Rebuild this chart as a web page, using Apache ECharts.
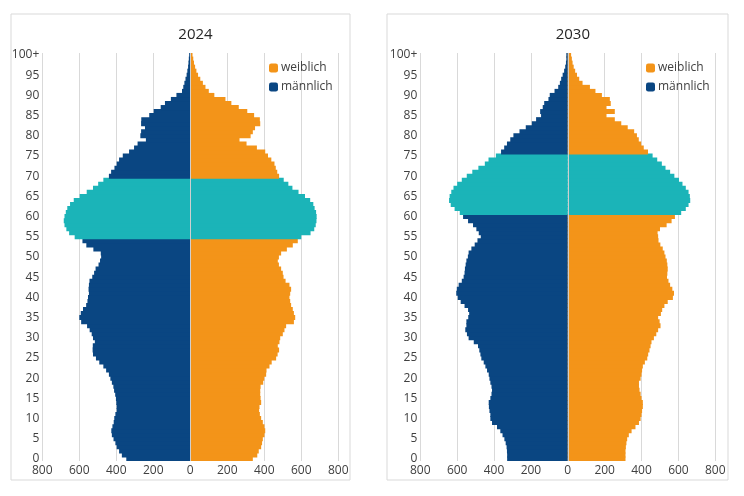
<!DOCTYPE html>
<html>
<head>
<meta charset="utf-8">
<script src="https://cdn.jsdelivr.net/npm/echarts@6/dist/echarts.min.js"></script>
<style>
html,body{margin:0;padding:0;background:#fff;}
#chart{width:744px;height:496px;}
</style>
</head>
<body>
<div id="chart"></div>
<script>
// Altersjahre 0 .. 100+
var ages = [];
for (var a = 0; a <= 100; a++) ages.push(a === 100 ? '100+' : String(a));

var years = ['2024', '2030'];
// Babyboomer-Jahrgänge (1955-1969) farbig markiert
var boomer2024 = [55, 69];
var boomer2030 = [61, 75];

// Personen je Altersjahr, Index = Alter
var male2024 = [346,370,385,398,405,415,424,427,421,414,411,405,398,398,400,402,406,412,416,424,
 432,440,455,470,492,510,526,528,527,516,526,533,544,558,590,600,592,580,563,556,
 553,548,550,548,545,530,520,512,496,488,482,484,524,562,583,625,655,670,680,684,
 680,673,665,650,630,598,560,526,498,470,440,428,410,398,385,365,331,304,285,240,
 270,266,245,266,265,222,198,160,137,105,75,45,38,32,26,20,16,12,10,8,6];
var female2024 = [338,362,370,383,388,392,401,405,401,392,383,376,372,374,383,380,378,378,380,394,
 400,410,412,428,440,464,472,480,473,482,486,500,509,518,560,567,560,554,545,540,
 536,540,545,536,515,504,500,491,479,473,479,491,522,554,581,600,650,670,678,682,
 683,680,672,665,648,620,585,552,530,505,480,470,462,455,438,420,405,360,304,266,
 326,338,350,378,376,345,308,262,222,190,130,100,82,68,54,42,33,26,20,16,12];
var male2030 = [329,329,330,332,337,344,354,366,384,411,420,420,425,428,429,420,414,411,414,420,
 425,429,438,447,456,469,474,480,487,510,538,547,556,550,550,540,535,541,560,581,
 597,605,602,592,575,565,560,558,554,550,542,538,523,505,490,472,483,496,514,541,
 568,586,614,635,644,641,632,620,600,575,548,518,485,450,430,390,362,345,330,312,
 295,262,228,195,172,145,150,136,128,105,98,72,52,43,36,28,20,14,10,8,8];
var female2030 = [313,313,313,315,318,322,331,346,367,386,395,400,403,407,407,400,395,389,386,386,
 395,400,403,407,418,431,436,443,449,454,467,480,490,503,498,490,505,512,524,542,
 570,576,567,555,546,538,540,542,540,537,530,524,515,502,492,490,487,500,536,563,
 581,615,640,655,664,662,655,640,622,603,578,555,530,510,485,460,435,412,398,385,
 375,360,325,290,255,210,255,210,233,228,185,150,120,80,62,50,40,32,26,22,18];

var colMale = '#0a4682';
var colFemale = '#f39419';
var colBoomer = '#1bb4b8';
var txt = '#404040';
var font = 'Open Sans';

function buildData(values, range, sign) {
    return values.map(function (v, i) {
        var item = { value: sign * v };
        if (i >= range[0] && i <= range[1]) item.itemStyle = { color: colBoomer };
        return item;
    });
}

var panels = [
    { left: 42.3, width: 296, cx: 190.5, box: [11, 14, 339, 466] },
    { left: 420.3, width: 295, cx: 567.8, box: [387, 14, 341, 466] }
];

var grids = [], xAxes = [], yAxes = [], titles = [], legends = [], series = [], boxes = [];
var sets = [
    { m: male2024, f: female2024, r: boomer2024 },
    { m: male2030, f: female2030, r: boomer2030 }
];

panels.forEach(function (p, k) {
    grids.push({ left: p.left, width: p.width, top: 53, height: 408 });
    xAxes.push({
        type: 'value', gridIndex: k, min: -800, max: 800, interval: 200,
        axisLine: { show: false }, axisTick: { show: false },
        splitLine: { lineStyle: { color: '#d9d9d9', width: 1 } },
        axisLabel: {
            color: txt, fontFamily: font, fontSize: 12, margin: 4,
            formatter: function (v) { return Math.abs(v); }
        }
    });
    yAxes.push({
        type: 'category', gridIndex: k, data: ages,
        axisLine: { show: false }, axisTick: { show: false }, splitLine: { show: false },
        axisLabel: { interval: 4, color: txt, fontFamily: font, fontSize: 12, margin: 3 }
    });
    titles.push({
        text: years[k], left: p.cx, top: 22, textAlign: 'center',
        textStyle: { color: '#262626', fontFamily: font, fontSize: 15, fontWeight: 'normal' }
    });
    legends.push({
        data: ['weiblich', 'männlich'], orient: 'vertical',
        left: k === 0 ? 269 : 646, top: 62,
        itemWidth: 9, itemHeight: 9, itemGap: 7, padding: 0,
        textStyle: { color: txt, fontFamily: font, fontSize: 12, padding: [0, 0, 0, -2] }
    });
    boxes.push({
        type: 'rect', shape: { x: p.box[0], y: p.box[1], width: p.box[2], height: p.box[3] },
        style: { fill: 'none', stroke: '#d9d9d9', lineWidth: 1 }, silent: true
    });
    var s = sets[k];
    // Balken etwas breiter als das Band, damit keine hellen Fugen entstehen
    series.push({
        name: 'männlich', type: 'bar', xAxisIndex: k, yAxisIndex: k,
        barWidth: 5, barGap: '-100%',
        itemStyle: { color: colMale },
        data: buildData(s.m, s.r, -1)
    });
    series.push({
        name: 'weiblich', type: 'bar', xAxisIndex: k, yAxisIndex: k,
        barWidth: 5, barGap: '-100%',
        itemStyle: { color: colFemale },
        data: buildData(s.f, s.r, 1),
        markLine: {
            silent: true, symbol: 'none', label: { show: false },
            lineStyle: { color: '#cfcfcf', width: 1, type: 'solid' },
            data: [{ xAxis: 0 }]
        }
    });
});

var chart = echarts.init(document.getElementById('chart'));
chart.setOption({
    animation: false,
    backgroundColor: '#fff',
    title: titles,
    legend: legends,
    grid: grids,
    xAxis: xAxes,
    yAxis: yAxes,
    graphic: boxes,
    series: series
});
</script>
</body>
</html>
